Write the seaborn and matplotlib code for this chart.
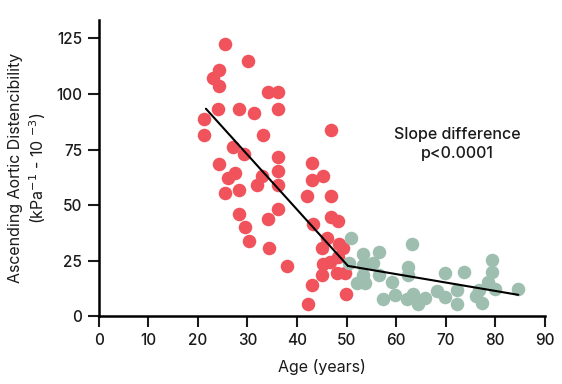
import matplotlib
matplotlib.use('Agg')
import matplotlib.pyplot as plt
import pandas as pd
import seaborn as sns

# Younger group (red) - age / distensibility
red_age = [25.5, 30.2, 24.3, 23.1, 24.3, 34.2, 36.2, 24.1, 28.3, 31.3, 36.2, 21.2,
           21.2, 33.1, 27.1, 29.2, 36.1, 24.3, 27.5, 26.0, 32.9, 36.2, 32.0, 36.2,
           25.5, 28.3, 36.1, 28.3, 34.1, 29.5, 30.4, 34.3, 38.0,
           46.9, 43.0, 45.2, 43.0, 42.0, 46.9, 46.9, 48.3, 43.2, 46.0, 48.5, 49.2,
           45.1, 48.3, 46.7, 45.2, 48.0, 49.7, 45.1, 43.0, 49.9, 42.3]
red_val = [122.5, 115.0, 111.0, 107.0, 103.7, 101.0, 101.0, 93.4, 93.4, 91.3, 93.1, 88.8,
           81.4, 81.4, 76.2, 73.2, 71.5, 68.7, 64.4, 62.1, 63.1, 65.5, 59.0, 59.0,
           55.6, 56.9, 48.3, 46.2, 44.0, 40.4, 33.8, 30.9, 22.6,
           83.7, 68.9, 63.3, 61.3, 54.3, 54.3, 44.9, 43.0, 41.7, 35.4, 32.6, 30.9,
           30.9, 26.9, 24.6, 23.6, 19.4, 19.4, 18.7, 14.2, 10.1, 5.6]

# Older group (green)
green_age = [51.0, 53.3, 50.6, 53.3, 53.3, 52.1, 53.7, 63.2, 56.6, 55.4, 62.5, 62.5,
             56.6, 59.1, 57.4, 59.8, 62.2, 63.4, 64.5, 65.9, 68.2, 69.8, 73.8, 79.3,
             79.3, 78.6, 79.9, 84.7, 72.3, 69.8, 72.3, 76.1, 76.8, 77.3]
green_val = [35.4, 28.1, 23.9, 23.1, 18.7, 14.9, 14.9, 32.6, 29.1, 24.2, 22.1, 18.7,
             18.7, 15.7, 7.9, 9.7, 7.9, 10.1, 5.6, 8.2, 11.6, 19.4, 20.1, 25.4,
             20.1, 15.6, 12.4, 12.4, 11.9, 8.6, 5.6, 9.2, 11.9, 5.9]

# fitted lines (end points)
red_fit_age = [21.6, 50.3]
red_fit_val = [93.4, 22.7]
green_fit_age = [50.3, 84.7]
green_fit_val = [22.7, 9.7]

x_ticks = [0, 10, 20, 30, 40, 50, 60, 70, 80, 90]
y_ticks = [0, 25, 50, 75, 100, 125]

red = '#F0535B'
green = '#9EBFB0'
ink = '#1a1a1a'

df_red = pd.DataFrame({'age': red_age, 'value': red_val})
df_green = pd.DataFrame({'age': green_age, 'value': green_val})

sns.set_style('ticks')
plt.rcParams['font.family'] = ['Inter', 'DejaVu Sans']
plt.rcParams['font.weight'] = 'medium'

fig = plt.figure(figsize=(5.62, 3.84), dpi=100)
ax = fig.add_axes([0.176, 0.176, 0.793, 0.772])

sns.scatterplot(data=df_red, x='age', y='value', color=red, s=95, linewidth=0, ax=ax, zorder=3)
sns.scatterplot(data=df_green, x='age', y='value', color=green, s=95, linewidth=0, ax=ax, zorder=3)
sns.lineplot(x=red_fit_age, y=red_fit_val, color='black', linewidth=1.5, ax=ax, zorder=4)
sns.lineplot(x=green_fit_age, y=green_fit_val, color='black', linewidth=1.5, ax=ax, zorder=4)

ax.set_xlim(0, 90)
ax.set_ylim(0, 133.3)
ax.set_xticks(x_ticks)
ax.set_yticks(y_ticks)
ax.tick_params(axis='both', labelsize=11, width=1.5, length=8, pad=4, colors=ink)
sns.despine(ax=ax)
for side in ['left', 'bottom']:
    ax.spines[side].set_linewidth(1.8)
    ax.spines[side].set_color('black')

ax.set_xlabel('Age (years)', fontsize=11.5, labelpad=8, color=ink)
ax.set_ylabel('Ascending Aortic Distencibility\n(kPa$^{-1}$ - 10 $^{-3}$)', fontsize=11.5,
              labelpad=6, color=ink, linespacing=1.25)

ax.text(72.3, 77.5, 'Slope difference\np<0.0001', ha='center', va='center',
        fontsize=11.5, linespacing=1.3, color=ink)

fig.savefig('out.png', dpi=100)
